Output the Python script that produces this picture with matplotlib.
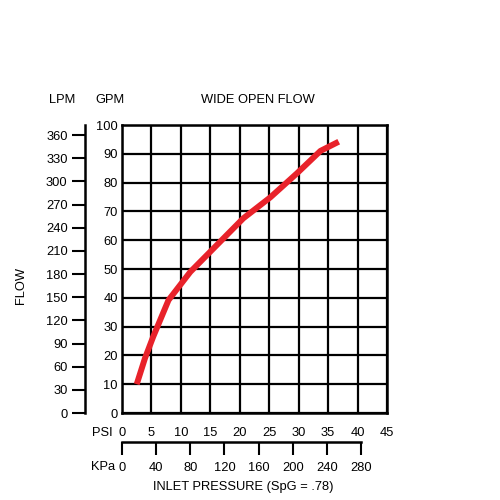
import numpy as np
import matplotlib
matplotlib.use("Agg")
import matplotlib.pyplot as plt

plt.rcParams["font.family"] = ["Liberation Sans", "DejaVu Sans"]

# curve (PSI -> GPM)
psi = [2.5, 3.9, 5.3, 7.9, 11.6, 16.1, 20.6, 25.2, 29.7, 33.7, 36.8]
gpm = [10, 19, 26.5, 39.2, 49, 58.3, 67.6, 74.9, 83.2, 91, 94.2]

psi_ticks = list(range(0, 50, 5))
gpm_ticks = list(range(0, 110, 10))
lpm_ticks = list(range(0, 390, 30))
kpa_ticks = list(range(0, 320, 40))
LPM_PER_GPM = 3.73
KPA_PER_PSI = 6.895

fs = 9.3
W = H = 500.0
fig = plt.figure(figsize=(5, 5), dpi=100)

L, R, T, B = 122, 387, 125, 413
ax = fig.add_axes([L / W, 1 - B / H, (R - L) / W, (B - T) / H])
ax.set_xlim(0, 45)
ax.set_ylim(0, 100)
ax.set_xticks(psi_ticks)
ax.set_yticks(gpm_ticks)
ax.grid(True, color="black", lw=1.6)
ax.set_axisbelow(True)
for s in ax.spines.values():
    s.set_linewidth(1.8)
ax.tick_params(axis="both", length=0, labelsize=fs)
ax.tick_params(axis="x", pad=10)
ax.tick_params(axis="y", pad=3)
ax.plot(psi, gpm, color="#e8222a", lw=4.3, solid_capstyle="butt", zorder=3)

# LPM scale on the left
lx = 85
axl = fig.add_axes([lx / W, 1 - B / H, 0.0001, (B - T) / H])
axl.set_ylim(0, 100 * LPM_PER_GPM)
axl.set_yticks(lpm_ticks)
axl.set_xticks([])
axl.patch.set_visible(False)
for k in ["top", "right", "bottom"]:
    axl.spines[k].set_visible(False)
axl.spines["left"].set_linewidth(1.8)
axl.tick_params(axis="y", length=9.5, width=1.5, labelsize=fs, pad=3)

# KPa scale below
ky = 442
axk = fig.add_axes([L / W, 1 - ky / H, (R - L) / W, 0.0001])
axk.set_xlim(0, 45 * KPA_PER_PSI)
axk.set_xticks(kpa_ticks)
axk.set_yticks([])
axk.patch.set_visible(False)
for k in ["top", "right", "left"]:
    axk.spines[k].set_visible(False)
axk.spines["bottom"].set_linewidth(1.8)
axk.spines["bottom"].set_bounds(0, 280)
axk.tick_params(axis="x", length=9.5, width=1.5, labelsize=fs, pad=5)

fig.text(62 / W, 1 - 100 / H, "LPM", ha="center", va="center", fontsize=fs)
fig.text(110 / W, 1 - 100 / H, "GPM", ha="center", va="center", fontsize=fs)
fig.text(258 / W, 1 - 100 / H, "WIDE OPEN FLOW", ha="center", va="center", fontsize=fs)
fig.text(21 / W, 1 - 285 / H, "FLOW", ha="center", va="center", rotation=90, fontsize=fs)
fig.text(113 / W, 1 - 433 / H, "PSI", ha="right", va="center", fontsize=fs)
fig.text(115 / W, 1 - 467 / H, "KPa", ha="right", va="center", fontsize=fs)
fig.text(243 / W, 1 - 487 / H, "INLET PRESSURE (SpG = .78)", ha="center", va="center", fontsize=fs)

fig.savefig("out.png", dpi=100)
